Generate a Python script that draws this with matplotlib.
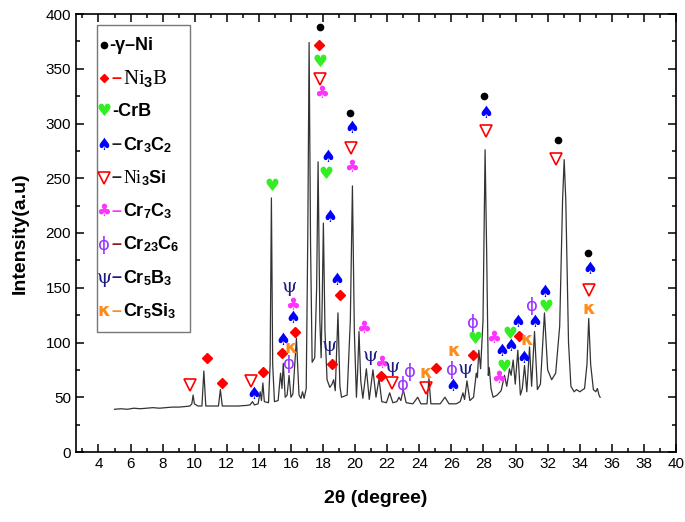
import matplotlib
matplotlib.use("Agg")
import matplotlib.pyplot as plt
from matplotlib.patches import Rectangle
from matplotlib.ticker import MultipleLocator

plt.rcParams['font.family'] = ['Liberation Sans', 'DejaVu Sans']
plt.rcParams['mathtext.fontset'] = 'custom'
plt.rcParams['mathtext.rm'] = 'Liberation Sans:bold'
plt.rcParams['mathtext.bf'] = 'Liberation Sans:bold'
plt.rcParams['mathtext.it'] = 'Liberation Serif'

# ---- XRD trace ----
two_theta = [5.0, 5.4, 5.8, 6.2, 6.6, 7.0, 7.4, 7.8, 8.2, 8.6, 9.0, 9.4, 9.7, 9.82, 9.9, 9.98,
             10.2, 10.45, 10.57, 10.69, 11.0, 11.48, 11.6, 11.72, 12.2, 12.7, 13.2, 13.45, 13.6,
             13.72, 13.95, 14.08, 14.16, 14.25, 14.34, 14.6, 14.7, 14.78, 14.86, 14.97, 15.2,
             15.35, 15.44, 15.52, 15.64, 15.76, 15.88, 16.0, 16.12, 16.34, 16.5, 16.62, 16.72,
             16.82, 16.95, 17.05, 17.13, 17.22, 17.32, 17.48, 17.6, 17.69, 17.8, 17.88, 17.95,
             18.02, 18.12, 18.25, 18.42, 18.56, 18.66, 18.76, 18.84, 18.93, 19.05, 19.15, 19.5,
             19.7, 19.83, 19.95, 20.08, 20.16, 20.24, 20.35, 20.48, 20.7, 20.88, 21.11, 21.3,
             21.49, 21.66, 21.95, 22.15, 22.35, 22.6, 22.73, 22.85, 23.0, 23.18, 23.6, 23.9,
             24.1, 24.48, 24.6, 24.72, 25.3, 25.6, 25.85, 26.3, 26.55, 26.72, 26.82, 26.97,
             27.15, 27.38, 27.55, 27.62, 27.71, 27.82, 27.97, 28.1, 28.2, 28.3, 28.36, 28.47,
             28.6, 28.85, 29.1, 29.31, 29.45, 29.62, 29.72, 29.85, 29.98, 30.14, 30.3, 30.42,
             30.56, 30.7, 30.87, 31.0, 31.18, 31.36, 31.55, 31.8, 32.0, 32.25, 32.5, 32.75,
             32.93, 33.03, 33.13, 33.3, 33.45, 33.65, 33.8, 34.0, 34.3, 34.45, 34.56, 34.68,
             34.85, 35.0, 35.1, 35.2, 35.27]
intensity = [39, 39.5, 39, 40, 39.5, 40, 40.5, 40, 40.5, 41, 41, 41.5, 42, 44, 52, 44,
             42, 42, 74, 42, 42, 42, 57, 42, 42, 42, 42.5, 43, 46,
             43, 44, 55, 47, 63, 46, 45, 80, 232, 80, 46, 47,
             72, 58, 81, 50, 52, 70, 50, 53, 104, 52, 49, 55,
             49, 58, 200, 374, 190, 82, 86, 150, 265, 120, 86, 140,
             209, 110, 66, 59, 62, 66, 56, 90, 127, 60, 50, 52,
             120, 243, 110, 50, 75, 110, 65, 49, 76, 48, 75, 50,
             67, 46, 45, 54, 45, 46, 50, 47, 57, 45, 44, 50,
             44, 44, 67, 44, 44, 50, 44, 44, 46, 54, 48, 65,
             47, 50, 72, 68, 93, 76, 120, 276, 180, 70, 77, 58,
             50, 52, 56, 70, 60, 76, 70, 84, 62, 93, 52, 58,
             79, 55, 96, 60, 110, 57, 62, 127, 75, 66, 72, 115,
             230, 267, 230, 100, 60, 55, 57, 55, 58, 80, 122, 80,
             57, 55, 58, 52, 50]

# ---- phase marker positions ----
gni_x = [17.79, 19.7, 28.05, 32.63, 34.54]
gni_y = [388, 310, 325, 285, 182]
ni3b_x = [10.74, 11.73, 14.24, 15.41, 16.26, 17.73, 18.56, 19.04, 21.63, 25.06, 27.34, 30.19]
ni3b_y = [86, 63, 73, 90, 110, 372, 80, 143, 69, 77, 89, 106]
crb_x = [14.79, 17.79, 18.2, 27.44, 29.25, 29.62, 31.9]
crb_y = [243, 356, 254, 103, 78, 108, 132]
cr3c2_x = [13.68, 15.51, 16.09, 18.27, 18.41, 18.87, 19.8, 26.1, 28.13, 29.15, 29.73,
           30.14, 30.5, 31.18, 31.84, 34.6]
cr3c2_y = [53, 102, 122, 269, 215, 157, 296, 60, 310, 92, 97, 119, 86, 119, 146, 167]
ni3si_x = [9.7, 13.5, 17.83, 19.77, 22.3, 24.39, 28.17, 32.53, 34.6]
ni3si_y = [61, 65, 341, 278, 63, 58, 293, 268, 148]
cr7c3_x = [16.07, 17.9, 19.8, 20.53, 21.63, 28.65, 28.96]
cr7c3_y = [134, 328, 260, 113, 81, 104, 68]
cr23c6_x = [15.88, 22.98, 23.44, 26.02, 27.34, 31.02]
cr23c6_y = [80, 61, 73, 75, 118, 133]
cr5b3_x = [15.93, 18.37, 20.97, 22.3, 26.9]
cr5b3_y = [151, 97, 88, 78, 76]
cr5si3_x = [15.99, 24.43, 26.13, 30.7, 34.56]
cr5si3_y = [95, 72, 92, 102, 131]

legend_labels = ['-γ–Ni', r'$\mathit{Ni_3B}$', '-CrB', r'Cr$_3$C$_2$', r'$\mathit{Ni_3}$Si',
                 r'Cr$_7$C$_3$', r'Cr$_{23}$C$_6$', r'Cr$_5$B$_3$', r'Cr$_5$Si$_3$']

RED = '#FF0000'
GREEN = '#33EE22'
BLUE = '#0000FF'
MAG = '#FF33FF'
PURP = '#9933FF'
NAVY = '#1A1A80'
ORNG = '#FF8C1A'

fig = plt.figure(figsize=(6.85, 5.22), dpi=100)
ax = fig.add_axes([76/685, 70/522, 600/685, 438/522])

ax.plot(two_theta, intensity, color='#333333', lw=0.9)

ax.set_xlim(2.6, 40)
ax.set_ylim(0, 400)
ax.xaxis.set_major_locator(MultipleLocator(2))
ax.xaxis.set_minor_locator(MultipleLocator(1))
ax.yaxis.set_major_locator(MultipleLocator(50))
ax.yaxis.set_minor_locator(MultipleLocator(25))
ax.tick_params(which='both', direction='in', top=True, right=True, width=1.1)
ax.tick_params(which='major', length=6, labelsize=11)
ax.tick_params(which='minor', length=3)
for s in ax.spines.values():
    s.set_linewidth(1.2)
ax.set_xticks(range(4, 41, 2))

ax.set_xlabel('2θ (degree)', fontsize=14, fontweight='bold', labelpad=14)
ax.set_ylabel('Intensity(a.u)', fontsize=14, fontweight='bold', labelpad=12)

# markers
ax.plot(gni_x, gni_y, 'o', color='black', ms=4.5, ls='none')
ax.plot(ni3b_x, ni3b_y, 'D', color=RED, ms=5, ls='none')
ax.plot(ni3si_x, ni3si_y, 'v', mfc='none', mec=RED, mew=1.2, ms=9, ls='none')

def glyphs(xs, ys, ch, color, size, **kw):
    for x, y in zip(xs, ys):
        ax.text(x, y, ch, color=color, fontsize=size, ha='center', va='center', **kw)

glyphs(crb_x, crb_y, '♥', GREEN, 12, family='DejaVu Sans')
glyphs(cr3c2_x, cr3c2_y, '♠', BLUE, 12, family='DejaVu Sans')
glyphs(cr7c3_x, cr7c3_y, '♣', MAG, 12, family='DejaVu Sans')
glyphs(cr23c6_x, cr23c6_y, 'ϕ', PURP, 13, family='DejaVu Sans')
glyphs(cr5b3_x, cr5b3_y, 'ψ', NAVY, 14, family='DejaVu Serif')
glyphs(cr5si3_x, cr5si3_y, 'κ', ORNG, 13, family='DejaVu Sans', fontweight='bold')

# legend box
def fx(px):
    return (px - 76) / 600.0

def fy(py):
    return (452 - py) / 438.0

ax.add_patch(Rectangle((fx(97), fy(332)), 93/600, 307/438, transform=ax.transAxes,
                       fill=False, ec='#777777', lw=1.0))
rows = [45 + i * 33.25 for i in range(9)]
sym_x = fx(104)
ax.plot([sym_x], [fy(rows[0])], 'o', color='black', ms=4.5, transform=ax.transAxes)
ax.plot([sym_x], [fy(rows[1])], 'D', color=RED, ms=4.5, transform=ax.transAxes)
ax.plot([sym_x], [fy(rows[4])], 'v', mfc='none', mec=RED, mew=1.2, ms=9, transform=ax.transAxes)
sym_glyphs = {2: ('♥', GREEN, 'DejaVu Sans', 12, 'normal'), 3: ('♠', BLUE, 'DejaVu Sans', 12, 'normal'),
              5: ('♣', MAG, 'DejaVu Sans', 12, 'normal'), 6: ('ϕ', PURP, 'DejaVu Sans', 13, 'normal'),
              7: ('ψ', NAVY, 'DejaVu Serif', 14, 'normal'), 8: ('κ', ORNG, 'DejaVu Sans', 13, 'bold')}
for i, (ch, c, fam, sz, fw) in sym_glyphs.items():
    ax.text(sym_x, fy(rows[i]), ch, color=c, family=fam, fontsize=sz, fontweight=fw,
            ha='center', va='center', transform=ax.transAxes)

dash_colors = {1: RED, 3: '#222222', 4: '#222222', 5: MAG, 6: '#8B1A1A', 7: NAVY, 8: ORNG}
for i, lab in enumerate(legend_labels):
    y = fy(rows[i])
    if i == 0:
        ax.text(fx(109), y, lab, fontsize=13, fontweight='bold', ha='left', va='center',
                transform=ax.transAxes)
    elif i == 2:
        ax.text(fx(112), y, lab, fontsize=13, fontweight='bold', ha='left', va='center',
                transform=ax.transAxes)
    else:
        ax.text(fx(112), y, '–', fontsize=13, fontweight='bold', color=dash_colors[i],
                ha='left', va='center', transform=ax.transAxes)
        sz = 15 if i == 1 else 13
        ax.text(fx(123), y, lab, fontsize=sz, fontweight='bold', ha='left', va='center',
                transform=ax.transAxes)

fig.savefig('out.png', dpi=100)
